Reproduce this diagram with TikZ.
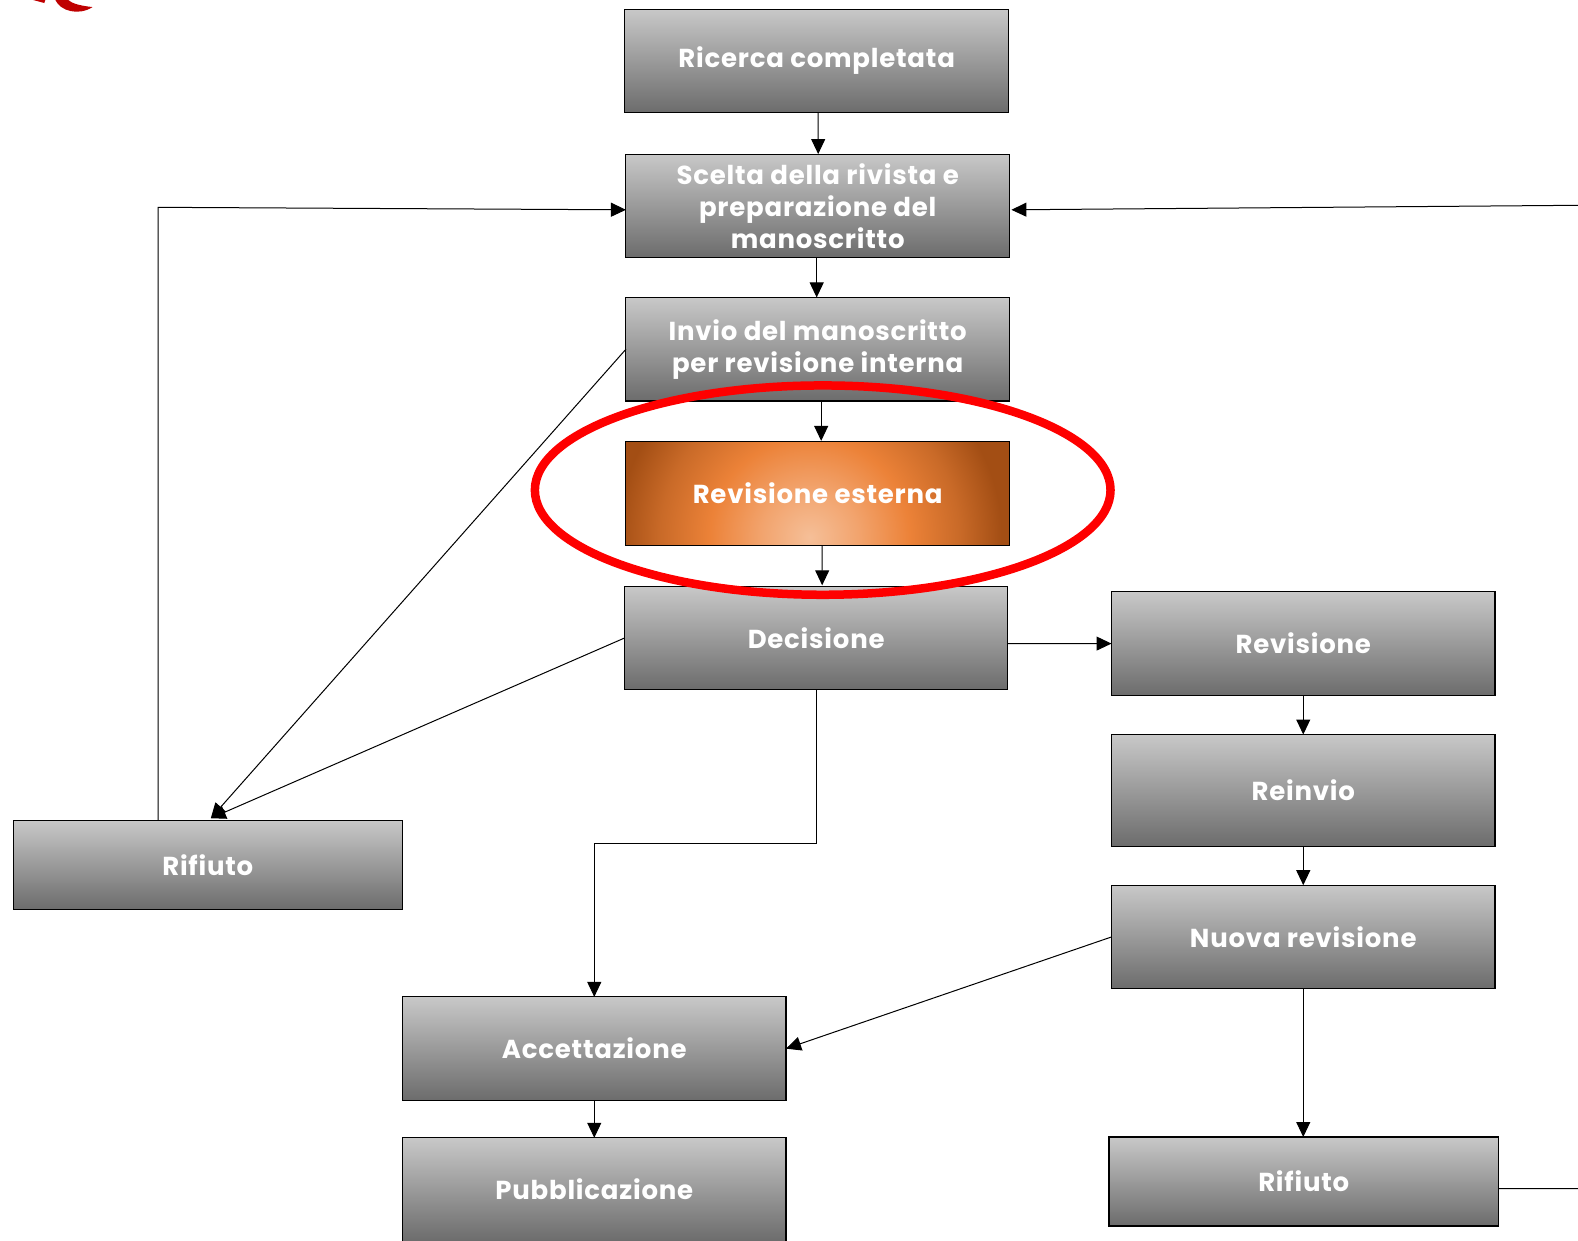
\documentclass[tikz,border=0pt]{standalone}
\usepackage{fontspec}
\setmainfont[LetterSpace=3]{Poppins}
\usepackage{xcolor}
\usetikzlibrary{arrows.meta}
\usetikzlibrary{calc}

\definecolor{boxtop}{HTML}{C8C8C8}
\definecolor{boxbottom}{HTML}{6C6C6C}
\definecolor{ringred}{HTML}{FE0000}
\definecolor{glowa}{HTML}{F5BF98}
\definecolor{glowb}{HTML}{F2A46E}
\definecolor{glowc}{HTML}{EC8238}
\definecolor{glowd}{HTML}{C96A28}
\definecolor{glowe}{HTML}{A34E14}
\pgfdeclareradialshading{glow}{\pgfpoint{0bp}{0bp}}{color(0bp)=(glowa); color(5bp)=(glowb); color(10.4bp)=(glowc); color(15.6bp)=(glowd); color(20bp)=(glowe); color(50bp)=(glowe)}

\tikzset{
  flowbox/.style={draw=black, line width=1.1pt, inner sep=0pt, outer sep=0pt, text=white, align=center,
    font=\fontsize{26}{32}\selectfont\bfseries, minimum width=383.5pt, minimum height=103.5pt},
  graybox/.style={flowbox, top color=boxtop, bottom color=boxbottom},
  link/.style={draw=black, line width=1pt, -{Triangle[length=15pt,width=14pt]}}
}

\begin{document}
\begin{tikzpicture}[x=1.00638pt,y=-1.00638pt]
  \useasboundingbox (0,0) rectangle (1568,1233);

  % steps
  \node[graybox] (ricerca) at (811.5,60.5) {Ricerca completata};
  \node[graybox] (scelta) at (812.5,204.5) {Scelta della rivista e\\preparazione del\\manoscritto};
  \node[graybox] (invio) at (812.5,347) {Invio del manoscritto\\per revisione interna};
  \node[flowbox, path picture={\shade[shading=glow] ([xshift=-8pt,yshift=8pt]path picture bounding box.south) circle (240pt);}] (esterna) at (812.5,490.5) {Revisione esterna};
  \node[graybox] (decisione) at (811,634) {Decisione};
  \node[graybox] (revisione) at (1295,639.5) {Revisione};
  \node[graybox, minimum height=112pt] (reinvio) at (1295,785.5) {Reinvio};
  \node[graybox] (nuova) at (1295,931) {Nuova revisione};
  \node[graybox, minimum width=389.5pt, minimum height=89pt] (rifiutob) at (1295.5,1174) {Rifiuto};
  \node[graybox, minimum width=389.5pt, minimum height=89.5pt] (rifiutoa) at (206.5,859.5) {Rifiuto};
  \node[graybox] (accettazione) at (590.5,1042) {Accettazione};
  \node[graybox] (pubblicazione) at (590.5,1182) {Pubblicazione};

  \coordinate (angolo) at (157,206);
  \coordinate (destra) at (1568,204);
  \coordinate (fine) at (1568,1181);

  % connectors
  \draw[link] ([xshift=1.5pt]ricerca.south) -- ([xshift=0.5pt]scelta.north);
  \draw[link] ([xshift=-1pt]scelta.south) -- ([xshift=-1pt]invio.north);
  \draw[link] ([xshift=3.5pt]invio.south) -- ([xshift=3.5pt,yshift=1pt]esterna.north);
  \draw[link] ([xshift=4.5pt]esterna.south) -- ([xshift=6pt,yshift=1pt]decisione.north);
  \draw[link] ([yshift=-5.5pt]decisione.east) -- (revisione.west);
  \draw[link] (revisione.south) -- (reinvio.north);
  \draw[link] (reinvio.south) -- (nuova.north);
  \draw[link] (nuova.south) -- (nuova.south |- rifiutob.north);
  \draw[link] (nuova.west) -- (accettazione.east);
  \draw[link] (accettazione.south) -- (pubblicazione.north);
  \draw[link] (decisione.south) -- (811,838) -- (590.5,838) -- (accettazione.north);
  \draw[link] (decisione.west) -- ([xshift=3pt,yshift=2pt]rifiutoa.north);
  \draw[link] (invio.west) -- ([xshift=3pt,yshift=2pt]rifiutoa.north);
  \draw[link] (rifiutoa.north -| angolo) -- (angolo) -- ([yshift=-4pt]scelta.west);
  \draw[link] (destra) -- ([xshift=2pt,yshift=-4pt]scelta.east);
  \draw[draw=black, line width=1pt] ([yshift=-7pt]rifiutob.east) -- (fine);

  % red ring
  \draw[ringred, line width=8.5pt] (817.5,487) ellipse (286 and 104);

  % corner of the logo
  \fill[red!75!black] (55,0) .. controls (60,11) and (78,16) .. (92,7) .. controls (82,6) and (72,4) .. (68,0) -- cycle;
  \fill[red!75!black] (33,0) -- (45,0) -- (44,3) -- cycle;
\end{tikzpicture}
\end{document}
